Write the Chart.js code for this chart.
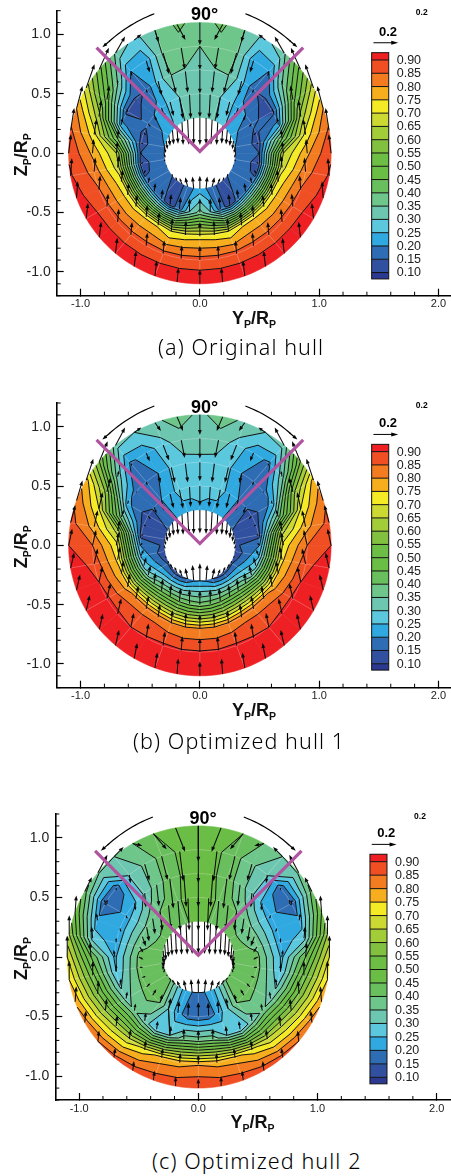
<!DOCTYPE html>
<html lang="en">
<head>
<meta charset="UTF-8">
<title>Wake contours</title>
<style>
    body { margin: 0; background: #fff; width: 451px; height: 1176px; position: relative; overflow: hidden; }
    canvas { position: absolute; left: 0; }
    .caption { position: absolute; white-space: nowrap; font-family: "Noto Sans", sans-serif; font-weight: 300; font-size: 21.5px; letter-spacing: 1.1px; color: #000; line-height: 24px; }
</style>
</head>
<body>
<canvas id="chartA" width="451" height="335" style="top:0"></canvas>
<canvas id="chartB" width="451" height="335" style="top:392px"></canvas>
<canvas id="chartC" width="451" height="335" style="top:802px"></canvas>
<div class="caption" style="left:158px;top:335px">(a) Original hull</div>
<div class="caption" style="left:133px;top:729px">(b) Optimized hull 1</div>
<div class="caption" style="left:152px;top:1149px">(c) Optimized hull 2</div>

<script src="https://cdn.jsdelivr.net/npm/chart.js"></script>
<script>
// measuring stations, half plane only (the other side is mirrored)
const radii = [0.3, 0.5, 0.7, 0.9, 1.1];
const angles = [0, 10, 20, 30, 40, 50, 60, 70, 80, 90, 100, 110, 120, 130, 140, 150, 160, 170, 180]; // deg from top

const levels = [0.10, 0.15, 0.20, 0.25, 0.30, 0.35, 0.40, 0.45, 0.50, 0.55, 0.60, 0.65, 0.70, 0.75, 0.80, 0.85, 0.90];
const bandColors = ['#2b3990', '#31509f', '#2e6db4', '#2fa9e0', '#5cc8dd', '#6dc6b0', '#6ec68a', '#69be5e', '#6abd45',
    '#6dbe45', '#82c03f', '#a3cc39', '#cdd933', '#f4ea26', '#f6ae1e', '#f47c20', '#f04e23', '#ee2024'];

const xTicks = [-1, 0, 1, 2];
const yTicks = [-1, -0.5, 0, 0.5, 1];
const xMinorTicks = [-0.8, -0.6, -0.4, -0.2, 0.2, 0.4, 0.6, 0.8, 1.2, 1.4, 1.6, 1.8];
const yMinorTicks = [-1.2, -1.1, -0.9, -0.8, -0.7, -0.6, -0.4, -0.3, -0.2, -0.1, 0.1, 0.2, 0.3, 0.4, 0.6, 0.7, 0.8, 0.9, 1.1, 1.2];

const sectorX = [-0.866, 0, 0.866];
const sectorY = [0.89, 0.015, 0.89];

// axial velocity, rows = radii, columns = angles
const wakeA = [
    [.32, .32, .31, .29, .26, .24, .22, .21, .20, .20, .19, .18, .17, .15, .13, .14, .17, .20, .22],
    [.32, .31, .30, .27, .22, .20, .16, .14, .13, .15, .13, .14, .17, .18, .16, .13, .17, .30, .37],
    [.32, .345, .35, .27, .16, .13, .13, .22, .45, .65, .68, .72, .73, .73, .74, .74, .70, .72, .73],
    [.35, .38, .36, .22, .20, .35, .48, .62, .72, .79, .83, .855, .865, .87, .87, .87, .87, .87, .87],
    [.38, .41, .35, .28, .34, .52, .68, .80, .86, .895, .905, .92, .94, .94, .94, .94, .94, .94, .94]
];
const vyA = [
    [0, 0, .01, .01, .01, .01, .01, .01, .01, .01, 0, 0, 0, -.005, -.01, -.02, -.02, -.01, 0],
    [0, .01, .03, .03, .03, .02, .02, .02, .02, .02, .02, .015, .01, .01, .01, .01, .01, 0, 0],
    [0, .02, .04, .03, .01, 0, 0, .01, .01, .01, .01, .01, .01, .01, .01, .01, .01, .005, 0],
    [0, .03, .05, .03, .01, 0, .02, .02, .02, .01, .01, .01, .01, .01, .01, .01, .01, .005, 0],
    [0, .07, .03, .06, .08, .08, .07, .05, .03, .02, .01, .01, .015, .015, .015, .015, .015, .012, 0]
];
const vzA = [
    [-.23, -.22, -.21, -.19, -.15, -.12, -.09, -.07, -.05, -.04, -.02, -.01, 0, .02, .03, .05, .08, .10, .11],
    [-.2, -.2, -.18, -.12, -.09, -.05, -.03, -.02, -.01, 0, .01, .03, .05, .07, .08, .09, .10, .11, .12],
    [-.2, -.18, -.15, -.12, -.03, -.01, .02, .06, .08, .10, .10, .10, .10, .10, .10, .11, .11, .12, .12],
    [-.2, -.18, -.18, -.1, -.04, .04, .12, .14, .13, .12, .12, .12, .11, .11, .11, .11, .11, .11, .12],
    [-.19, -.13, -.10, .05, .14, .18, .2, .19, .19, .16, .15, .14, .13, .13, .13, .13, .13, .12, .12]
];

const wakeB = [
    [.24, .24, .24, .22, .20, .18, .16, .14, .14, .14, .11, .12, .14, .13, .12, .13, .15, .19, .20],
    [.27, .26, .26, .24, .20, .16, .12, .12, .13, .20, .24, .28, .33, .40, .44, .45, .44, .43, .42],
    [.29, .28, .26, .20, .16, .18, .22, .38, .63, .72, .74, .76, .78, .82, .83, .83, .81, .80, .80],
    [.32, .33, .28, .22, .19, .33, .58, .70, .78, .85, .885, .90, .915, .91, .90, .905, .91, .905, .905],
    [.34, .37, .34, .30, .32, .55, .77, .84, .87, .90, .93, .95, .96, .96, .96, .96, .96, .96, .96]
];
const vyB = [
    [0, 0, .01, .01, .01, .01, .01, .01, .01, .01, 0, -.01, -.01, -.02, -.02, -.02, -.02, -.01, 0],
    [0, .01, .03, .03, .02, .02, .02, .02, .02, .02, .02, .02, .02, .01, .01, .01, .01, 0, 0],
    [0, .02, .03, .02, .01, .01, .01, .02, .02, .02, .02, .02, .02, .02, .02, .015, .01, .005, 0],
    [0, .03, .05, .03, .01, .01, .03, .03, .03, .03, .03, .03, .03, .03, .025, .02, .015, .01, 0],
    [0, .05, .05, .06, .08, .07, .06, .05, .04, .03, .03, .03, .03, .03, .03, .025, .02, .01, 0]
];
const vzB = [
    [-.2, -.2, -.19, -.17, -.14, -.11, -.09, -.07, -.05, -.03, -.01, .01, .02, .04, .05, .06, .09, .13, .15],
    [-.17, -.17, -.16, -.12, -.09, -.05, -.03, -.01, 0, .02, .05, .07, .08, .09, .10, .10, .11, .12, .12],
    [-.16, -.16, -.13, -.08, -.03, 0, .03, .06, .09, .11, .11, .11, .11, .11, .11, .11, .11, .12, .12],
    [-.17, -.15, -.13, -.07, -.02, .05, .12, .14, .14, .13, .13, .13, .13, .13, .12, .12, .12, .12, .12],
    [-.17, -.12, -.07, .04, .15, .17, .18, .17, .15, .14, .13, .13, .13, .13, .13, .13, .13, .13, .12]
];

const wakeC = [
    [.47, .46, .44, .43, .42, .42, .42, .42, .42, .41, .41, .41, .41, .40, .33, .27, .22, .20, .20],
    [.48, .47, .44, .41, .40, .38, .36, .37, .39, .41, .42, .42, .42, .42, .40, .30, .22, .17, .165],
    [.49, .46, .42, .38, .31, .24, .22, .22, .22, .24, .25, .29, .33, .36, .32, .26, .30, .38, .38],
    [.50, .46, .42, .36, .31, .17, .145, .22, .28, .45, .52, .56, .60, .64, .66, .72, .77, .78, .795],
    [.50, .47, .45, .40, .35, .36, .42, .50, .60, .70, .75, .79, .83, .85, .87, .88, .885, .89, .90]
];
const vyC = [
    [0, 0, .01, .01, .01, .01, .01, .01, .01, .01, 0, -.01, -.01, -.02, -.03, -.03, -.02, -.01, 0],
    [0, .01, .02, .02, .02, .02, .02, .03, .03, .04, .03, .03, .03, .03, .02, .02, .01, .005, 0],
    [0, .02, .03, .02, .01, .01, .01, .01, 0, -.01, 0, .01, .01, .01, .01, .01, .01, 0, 0],
    [0, .03, .05, .04, .01, 0, -.01, -.01, -.01, -.01, 0, .01, .01, .01, .01, .01, .01, .005, 0],
    [0, .08, .11, .08, .08, .08, .06, .01, 0, 0, 0, .01, .01, .01, .01, .01, .01, 0, 0]
];
const vzC = [
    [-.27, -.27, -.26, -.24, -.21, -.18, -.15, -.13, -.11, -.09, -.06, -.03, -.01, .02, .04, .06, .09, .11, .12],
    [-.28, -.27, -.25, -.2, -.16, -.13, -.12, -.08, -.05, -.02, 0, .01, .03, .05, .07, .09, .10, .11, .12],
    [-.28, -.27, -.25, -.18, -.12, -.06, -.03, -.03, .04, .06, .06, .06, .06, .06, .07, .07, .08, .09, .09],
    [-.28, -.25, -.2, -.14, -.07, -.02, .03, .06, .10, .12, .12, .11, .10, .09, .08, .08, .08, .08, .08],
    [-.3, -.2, -.13, -.02, .08, .15, .12, .14, .16, .18, .16, .13, .10, .09, .08, .08, .08, .08, .08]
];

const refVector = 0.2;

function polar(r, deg) {
    // deg runs clockwise from the top, 0..360, 0..180 is the left side
    const a = deg * Math.PI / 180;
    return [-r * Math.sin(a), r * Math.cos(a)];
}

// value at mesh node, i = 0..36 round the full circle
function nodeValue(table, j, i) {
    const k = i % 36;
    return table[j][k <= 18 ? k : 36 - k];
}

function clipBand(poly, limit, keepAbove) {
    const out = [];
    for (let n = 0; n < poly.length; n++) {
        const a = poly[n], b = poly[(n + 1) % poly.length];
        const aIn = keepAbove ? a.v >= limit : a.v <= limit;
        const bIn = keepAbove ? b.v >= limit : b.v <= limit;
        if (aIn) out.push(a);
        if (aIn !== bIn) {
            const t = (limit - a.v) / (b.v - a.v);
            out.push({ r: a.r + t * (b.r - a.r), d: a.d + t * (b.d - a.d), v: limit });
        }
    }
    return out;
}

function drawField(ctx, sx, sy, table) {
    const px = (r, d) => { const p = polar(r, d); return [sx.getPixelForValue(p[0]), sy.getPixelForValue(p[1])]; };
    const cells = [];
    for (let j = 0; j < radii.length - 1; j++) {
        for (let i = 0; i < 36; i++) {
            cells.push([
                { r: radii[j], d: i * 10, v: nodeValue(table, j, i) },
                { r: radii[j], d: (i + 1) * 10, v: nodeValue(table, j, i + 1) },
                { r: radii[j + 1], d: (i + 1) * 10, v: nodeValue(table, j + 1, i + 1) },
                { r: radii[j + 1], d: i * 10, v: nodeValue(table, j + 1, i) }
            ]);
        }
    }
    // filled bands
    bandColors.forEach((color, b) => {
        ctx.fillStyle = color;
        ctx.strokeStyle = color;
        ctx.lineWidth = 0.6;
        cells.forEach(cell => {
            let poly = cell;
            if (b > 0) poly = clipBand(poly, levels[b - 1], true);
            if (b < levels.length && poly.length) poly = clipBand(poly, levels[b], false);
            if (poly.length < 3) return;
            ctx.beginPath();
            poly.forEach((p, n) => {
                const q = poly[(n + 1) % poly.length];
                const start = px(p.r, p.d);
                if (n === 0) ctx.moveTo(start[0], start[1]);
                const steps = Math.abs(p.r - q.r) < 1e-6 ? 4 : 1; // follow the arc on rings
                for (let s = 1; s <= steps; s++) {
                    const e = px(q.r, p.d + (q.d - p.d) * s / steps);
                    ctx.lineTo(e[0], e[1]);
                }
            });
            ctx.closePath();
            ctx.fill();
            ctx.stroke();
        });
    });
    // faint mesh
    ctx.strokeStyle = 'rgba(255,255,255,0.3)';
    ctx.lineWidth = 0.7;
    for (let d = 0; d < 360; d += 20) {
        const a = px(radii[0], d), b = px(radii[radii.length - 1], d);
        ctx.beginPath(); ctx.moveTo(a[0], a[1]); ctx.lineTo(b[0], b[1]); ctx.stroke();
    }
    radii.slice(1, -1).forEach(r => {
        ctx.beginPath();
        for (let d = 0; d <= 360; d += 5) {
            const p = px(r, d);
            ctx.lineTo(p[0], p[1]);
        }
        ctx.stroke();
    });
    // contour lines
    ctx.strokeStyle = '#111';
    ctx.lineWidth = 1;
    ctx.lineJoin = 'round';
    levels.forEach(level => {
        cells.forEach(cell => {
            const hits = [];
            for (let n = 0; n < 4; n++) {
                const a = cell[n], b = cell[(n + 1) % 4];
                if ((a.v < level) !== (b.v < level)) {
                    const t = (level - a.v) / (b.v - a.v);
                    hits.push(px(a.r + t * (b.r - a.r), a.d + t * (b.d - a.d)));
                }
            }
            for (let h = 0; h + 1 < hits.length; h += 2) {
                ctx.beginPath();
                ctx.moveTo(hits[h][0], hits[h][1]);
                ctx.lineTo(hits[h + 1][0], hits[h + 1][1]);
                ctx.stroke();
            }
        });
    });
}

function drawArrow(ctx, x1, y1, x2, y2, headLen, headWidth, lineWidth) {
    const len = Math.hypot(x2 - x1, y2 - y1);
    if (len < 0.5) return;
    const ux = (x2 - x1) / len, uy = (y2 - y1) / len;
    const h = Math.min(headLen, len * 0.5);
    const w = headWidth * h / headLen;
    ctx.lineWidth = lineWidth;
    ctx.beginPath();
    ctx.moveTo(x1, y1);
    ctx.lineTo(x2 - ux * h * 0.6, y2 - uy * h * 0.6);
    ctx.stroke();
    ctx.beginPath();
    ctx.moveTo(x2, y2);
    ctx.lineTo(x2 - ux * h - uy * w, y2 - uy * h + ux * w);
    ctx.lineTo(x2 - ux * h + uy * w, y2 - uy * h - ux * w);
    ctx.closePath();
    ctx.fill();
}

function drawVectors(ctx, sx, sy, vy, vz) {
    ctx.strokeStyle = '#0a0a0a';
    ctx.fillStyle = '#0a0a0a';
    radii.forEach((r, j) => {
        angles.forEach((deg, i) => {
            // left side, then its mirror
            [1, -1].forEach(side => {
                if (side === -1 && (deg === 0 || deg === 180)) return;
                const p = polar(r, deg);
                const x = p[0] * side, y = p[1];
                drawArrow(ctx, sx.getPixelForValue(x), sy.getPixelForValue(y),
                    sx.getPixelForValue(x + vy[j][i] * side), sy.getPixelForValue(y + vz[j][i]), 5, 1.9, 1.05);
            });
        });
    });
}

function subText(ctx, x, y, big, small, bigPx, smallPx) {
    // text with a lowered small part, left to right from x
    let cx = x;
    for (let n = 0; n < big.length; n++) {
        ctx.font = 'bold ' + bigPx + 'px "Liberation Sans", Arial, sans-serif';
        ctx.fillText(big[n], cx, y);
        cx += ctx.measureText(big[n]).width;
        if (small[n]) {
            ctx.font = 'bold ' + smallPx + 'px "Liberation Sans", Arial, sans-serif';
            ctx.fillText(small[n], cx, y + 4);
            cx += ctx.measureText(small[n]).width;
        }
    }
}

function makePlugin(panel) {
    return {
        id: 'wake' + panel.id,
        beforeDatasetsDraw(chart) {
            const ctx = chart.ctx, sx = chart.scales.x, sy = chart.scales.y;
            ctx.save();
            drawField(ctx, sx, sy, panel.wake);
            drawVectors(ctx, sx, sy, panel.vy, panel.vz);
            ctx.restore();
        },
        afterDraw(chart) {
            const ctx = chart.ctx, sx = chart.scales.x, sy = chart.scales.y;
            const X = v => sx.getPixelForValue(v), Y = v => sy.getPixelForValue(v);
            ctx.save();
            // minor ticks
            ctx.strokeStyle = '#000';
            ctx.lineWidth = 1;
            xMinorTicks.forEach(v => {
                ctx.beginPath(); ctx.moveTo(X(v), sy.bottom); ctx.lineTo(X(v), sy.bottom - 4); ctx.stroke();
            });
            yMinorTicks.forEach(v => {
                ctx.beginPath(); ctx.moveTo(sx.left, Y(v)); ctx.lineTo(sx.left + 4, Y(v)); ctx.stroke();
            });

            // curved arrows either side of the 90 deg sector
            ctx.strokeStyle = '#000';
            ctx.fillStyle = '#000';
            [1, -1].forEach(side => {
                ctx.lineWidth = 1.2;
                ctx.beginPath();
                for (let d = 18; d <= 39; d += 1.5) {
                    const p = polar(1.235 - (d - 18) * 0.0012, d);
                    ctx.lineTo(X(p[0] * side), Y(p[1]));
                }
                ctx.stroke();
                const a = polar(1.21, 38.5), b = polar(1.21, 42.5);
                drawArrow(ctx, X(a[0] * side), Y(a[1]), X(b[0] * side), Y(b[1]), 9, 3.2, 1.2);
            });

            // colour legend, its level spacing comes from the panel
            const levelY = l => panel.legendTop - (0.9 - l) / 0.8 * panel.legendSpan;
            const step = levelY(0.15) - levelY(0.10);
            const bx0 = X(panel.legendX), bx1 = X(panel.legendX + 0.143);
            bandColors.forEach((color, b) => {
                const lo = b === 0 ? levelY(0.10) - step * 0.48 : levelY(levels[b - 1]);
                const hi = b === levels.length ? levelY(0.90) + step * 0.55 : levelY(levels[b]);
                ctx.fillStyle = color;
                ctx.fillRect(bx0, Y(hi), bx1 - bx0, Y(lo) - Y(hi));
            });
            ctx.strokeStyle = '#111';
            ctx.lineWidth = 1;
            levels.forEach(l => {
                ctx.beginPath(); ctx.moveTo(bx0, Y(levelY(l))); ctx.lineTo(bx1, Y(levelY(l))); ctx.stroke();
            });
            ctx.strokeRect(bx0, Y(levelY(0.90) + step * 0.55), bx1 - bx0, Y(levelY(0.10) - step * 0.48) - Y(levelY(0.90) + step * 0.55));
            ctx.fillStyle = '#222';
            ctx.font = '12.5px "Liberation Sans", Arial, sans-serif';
            ctx.textAlign = 'left';
            ctx.textBaseline = 'middle';
            levels.forEach(l => ctx.fillText(l.toFixed(2), X(panel.legendX + 0.21), Y(levelY(l)) + 0.5));

            // reference vector
            const ry = panel.legendTop + 0.145;
            ctx.strokeStyle = '#000';
            ctx.fillStyle = '#000';
            drawArrow(ctx, X(panel.legendX + 0.015), Y(ry), X(panel.legendX + 0.015 + refVector * 1.04), Y(ry), 7, 2, 1);
            ctx.textAlign = 'center';
            ctx.textBaseline = 'alphabetic';
            ctx.font = 'bold 13px "Liberation Sans", Arial, sans-serif';
            ctx.fillText(refVector.toFixed(1), X(panel.legendX + 0.137), Y(ry) - 7);
            ctx.font = 'bold 8.5px "Liberation Sans", Arial, sans-serif';
            ctx.fillText(refVector.toFixed(1), X(panel.legendX + 0.42), sy.top + 4.5);

            // sector angle
            ctx.font = 'bold 18px "Liberation Sans", Arial, sans-serif';
            ctx.fillText('90°', X(0.04), sy.top + 9.5);

            // axis titles with subscripts
            ctx.fillStyle = '#111';
            ctx.textAlign = 'left';
            subText(ctx, X(0.27), sy.bottom + 28, ['Y', '/R'], ['P', 'P'], 18, 10.5);
            ctx.translate(27, Y(0) + 23);
            ctx.rotate(-Math.PI / 2);
            subText(ctx, 0, 0, ['Z', '/R'], ['P', 'P'], 18, 10.5);
            ctx.restore();
        }
    };
}

const panels = [
    { id: 'A', wake: wakeA, vy: vyA, vz: vzA, plotLeft: 56.7, plotTop: 10.7, plotBottom: 295.7, xMax: 2.105, legendX: 1.44, legendTop: 0.785, legendSpan: 1.79 },
    { id: 'B', wake: wakeB, vy: vyB, vz: vzB, plotLeft: 56.7, plotTop: 11, plotBottom: 295.7, xMax: 2.105, legendX: 1.44, legendTop: 0.79, legendSpan: 1.788 },
    { id: 'C', wake: wakeC, vy: vyC, vz: vzC, plotLeft: 55.3, plotTop: 12, plotBottom: 298, xMax: 2.12, legendX: 1.44, legendTop: 0.80, legendSpan: 1.81 }
];

panels.forEach(panel => {
    new Chart(document.getElementById('chart' + panel.id).getContext('2d'), {
        type: 'scatter',
        data: {
            datasets: [{
                data: sectorX.map((x, i) => ({ x: x, y: sectorY[i] })),
                showLine: true,
                borderColor: '#b0549f',
                borderWidth: 3.2,
                pointRadius: 0,
                borderJoinStyle: 'miter'
            }]
        },
        options: {
            responsive: false,
            animation: false,
            layout: { padding: { top: panel.plotTop, left: 0, right: 0, bottom: 0 } },
            plugins: { legend: { display: false }, tooltip: { enabled: false } },
            scales: {
                x: {
                    type: 'linear', min: -1.2, max: panel.xMax,
                    afterBuildTicks: s => { s.ticks = xTicks.map(v => ({ value: v })); },
                    afterFit: s => { s.height = 335 - panel.plotBottom; s.paddingLeft = 0; s.paddingRight = 0; },
                    grid: { drawOnChartArea: false, tickLength: -7, tickColor: '#000', tickWidth: 1.2 },
                    border: { color: '#000', width: 1.6 },
                    ticks: { padding: 9, autoSkip: false, maxRotation: 0, color: '#222', font: { size: 11, family: '"Liberation Sans", Arial, sans-serif' }, callback: v => v.toFixed(1) }
                },
                y: {
                    type: 'linear', min: -1.2, max: 1.2,
                    afterBuildTicks: s => { s.ticks = yTicks.map(v => ({ value: v })); },
                    afterFit: s => { s.width = panel.plotLeft; s.paddingTop = 0; s.paddingBottom = 0; },
                    grid: { drawOnChartArea: false, tickLength: -7, tickColor: '#000', tickWidth: 1.2 },
                    border: { color: '#000', width: 1.6 },
                    ticks: { padding: 13, autoSkip: false, color: '#222', font: { size: 14, family: '"Liberation Sans", Arial, sans-serif' }, callback: v => v.toFixed(1) }
                }
            }
        },
        plugins: [makePlugin(panel)]
    });
});
</script>
</body>
</html>
